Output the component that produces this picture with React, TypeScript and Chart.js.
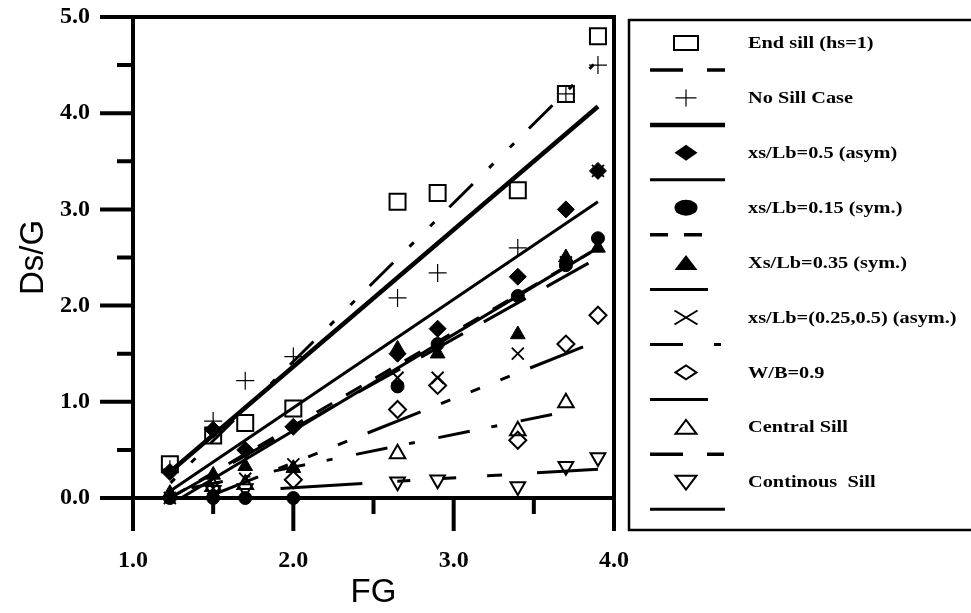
import React, { useEffect, useRef } from "react";
import { Chart, registerables } from "chart.js";

Chart.register(...registerables);

// ---- data ----
const FG_VALUES = [1.23, 1.5, 1.7, 2.0, 2.65, 2.9, 3.4, 3.7, 3.9];
const END_SILL = [0.35, 0.65, 0.78, 0.93, 3.08, 3.17, 3.2, 4.2, 4.8];
const NO_SILL = [0.3, 0.8, 1.22, 1.47, 2.08, 2.34, 2.6, 4.2, 4.5];
const ASYM_05 = [0.27, 0.71, 0.5, 0.74, 1.5, 1.76, 2.3, 3.0, 3.4];
const SYM_015 = [0.0, 0.0, 0.0, 0.0, 1.16, 1.6, 2.1, 2.42, 2.7];
const SYM_035 = [0.05, 0.24, 0.33, 0.31, 1.55, 1.5, 1.7, 2.5, 2.6];
const ASYM_25_05 = [0.0, 0.1, 0.2, 0.35, 1.25, 1.25, 1.5, 2.45, 3.4];
const WB_09 = [null, null, null, 0.19, 0.92, 1.17, 0.6, 1.6, 1.9];
const CENTRAL = [null, 0.12, 0.14, null, 0.46, null, 0.7, 0.99, null];
const CONTINUOUS = [null, 0.08, 0.1, null, 0.17, 0.19, 0.12, 0.33, 0.42];

// fitted trend lines: [x0, x1] and [y0, y1]
const FIT_END_X = [1.23, 3.9];
const FIT_END_Y = [0.15, 4.55];
const FIT_NOSILL_X = [1.23, 3.9];
const FIT_NOSILL_Y = [0.27, 4.07];
const FIT_ASYM05_X = [1.23, 3.9];
const FIT_ASYM05_Y = [0.07, 3.08];
const FIT_SYM015_X = [1.23, 3.85];
const FIT_SYM015_Y = [0.0, 2.55];
const FIT_SYM035_X = [1.3, 3.9];
const FIT_SYM035_Y = [0.0, 2.6];
const FIT_ASYM2505_X = [1.45, 3.85];
const FIT_ASYM2505_Y = [0.0, 1.6];
const FIT_WB_X = [1.23, 3.85];
const FIT_WB_Y = [0.0, 2.45];
const FIT_CENTRAL_X = [1.23, 3.62];
const FIT_CENTRAL_Y = [0.06, 0.87];
const FIT_CONT_X = [1.92, 3.9];
const FIT_CONT_Y = [0.1, 0.3];

const X_TICKS = [1, 2, 3, 4];
const Y_TICKS = [0, 1, 2, 3, 4, 5];

const LEGEND_LABELS = [
  "End sill (hs=1)",
  "No Sill Case",
  "xs/Lb=0.5 (asym)",
  "xs/Lb=0.15 (sym.)",
  "Xs/Lb=0.35 (sym.)",
  "xs/Lb=(0.25,0.5) (asym.)",
  "W/B=0.9",
  "Central Sill",
  "Continous  Sill",
];

const pts = (ys: (number | null)[]) =>
  FG_VALUES.map((x, i) => ({ x, y: ys[i] })).filter((p) => p.y !== null);
const line = (xs: number[], ys: number[]) => xs.map((x, i) => ({ x, y: ys[i] }));

const BLACK = "#000";
const NONE = "rgba(0,0,0,0)";

function markerSet(data: any, style: string, radius: number, filled: boolean, bw: number, rotation = 0) {
  return {
    type: "scatter",
    data,
    showLine: false,
    pointStyle: style,
    pointRadius: radius,
    pointRotation: rotation,
    pointBorderWidth: bw,
    pointBorderColor: BLACK,
    pointBackgroundColor: filled ? BLACK : NONE,
    borderColor: BLACK,
    backgroundColor: filled ? BLACK : NONE,
    clip: false,
  };
}

function lineSet(data: any, width: number, dash: number[], dashOffset = 0) {
  return {
    type: "scatter",
    data,
    showLine: true,
    pointRadius: 0,
    borderColor: BLACK,
    borderWidth: width,
    borderDash: dash,
    borderDashOffset: dashOffset,
    borderCapStyle: "butt",
    fill: false,
  };
}

// legend symbol drawer (stretched like the original)
function drawLegendSymbol(ctx: CanvasRenderingContext2D, i: number, cx: number, cy: number) {
  const w = 11.5;
  const h = 8;
  ctx.save();
  ctx.strokeStyle = BLACK;
  ctx.fillStyle = BLACK;
  ctx.lineWidth = 2;
  ctx.beginPath();
  switch (i) {
    case 0:
      ctx.rect(cx - 12, cy - 7, 24, 14);
      ctx.stroke();
      break;
    case 1:
      ctx.lineWidth = 1.2;
      ctx.moveTo(cx - 10.5, cy);
      ctx.lineTo(cx + 10.5, cy);
      ctx.moveTo(cx, cy - 8.5);
      ctx.lineTo(cx, cy + 8.5);
      ctx.stroke();
      break;
    case 2:
      ctx.moveTo(cx - w, cy);
      ctx.lineTo(cx, cy - h);
      ctx.lineTo(cx + w, cy);
      ctx.lineTo(cx, cy + h);
      ctx.closePath();
      ctx.fill();
      break;
    case 3:
      ctx.ellipse(cx, cy, w, h, 0, 0, Math.PI * 2);
      ctx.fill();
      break;
    case 4:
      ctx.moveTo(cx - w, cy + 7.5);
      ctx.lineTo(cx, cy - 7.5);
      ctx.lineTo(cx + w, cy + 7.5);
      ctx.closePath();
      ctx.fill();
      break;
    case 5:
      ctx.moveTo(cx - w, cy - 7);
      ctx.lineTo(cx + w, cy + 7);
      ctx.moveTo(cx + w, cy - 7);
      ctx.lineTo(cx - w, cy + 7);
      ctx.stroke();
      break;
    case 6:
      ctx.moveTo(cx - 10.5, cy);
      ctx.lineTo(cx, cy - 7);
      ctx.lineTo(cx + 10.5, cy);
      ctx.lineTo(cx, cy + 7);
      ctx.closePath();
      ctx.stroke();
      break;
    case 7:
      ctx.moveTo(cx - 10.5, cy + 6.5);
      ctx.lineTo(cx, cy - 7.5);
      ctx.lineTo(cx + 10.5, cy + 6.5);
      ctx.closePath();
      ctx.stroke();
      break;
    case 8:
      ctx.moveTo(cx - 10.5, cy - 6.5);
      ctx.lineTo(cx, cy + 7.5);
      ctx.lineTo(cx + 10.5, cy - 6.5);
      ctx.closePath();
      ctx.stroke();
      break;
  }
  ctx.restore();
}

// legend line samples: segments [x0, x1] and widths
const LEGEND_LINE_SEGS: number[][][] = [
  [[650, 683], [707, 725]],
  [[650, 725]],
  [[650, 725]],
  [[650, 668], [684, 702]],
  [[650, 708]],
  [[650, 683], [714, 721]],
  [[650, 708]],
  [[650, 683], [707, 724]],
  [[650, 725]],
];
const LEGEND_LINE_W = [3.5, 4.5, 3, 3.5, 3, 3, 3, 3.5, 3];

const framePlugin = {
  id: "frame",
  beforeDatasetsDraw(chart: any) {
    const ctx: CanvasRenderingContext2D = chart.ctx;
    const xs = chart.scales.x;
    const ys = chart.scales.y;
    const L = xs.getPixelForValue(1);
    const R = xs.getPixelForValue(4);
    const T = ys.getPixelForValue(5);
    const B = ys.getPixelForValue(0);
    const major = 33;
    const minor = 16;
    ctx.save();
    ctx.strokeStyle = BLACK;
    ctx.lineWidth = 4;
    ctx.lineCap = "butt";
    ctx.beginPath();
    // frame
    ctx.moveTo(L, T);
    ctx.lineTo(R + 2, T);
    ctx.moveTo(R, T);
    ctx.lineTo(R, B);
    ctx.moveTo(L, T - 2);
    ctx.lineTo(L, B);
    ctx.moveTo(L, B);
    ctx.lineTo(R, B);
    // x ticks
    for (let v = 1; v <= 4.001; v += 0.5) {
      const px = xs.getPixelForValue(v);
      const len = Math.abs(v - Math.round(v)) < 1e-6 ? major : minor;
      ctx.moveTo(px, B);
      ctx.lineTo(px, B + len);
    }
    // y ticks
    for (let v = 0; v <= 5.001; v += 0.5) {
      const py = ys.getPixelForValue(v);
      const len = Math.abs(v - Math.round(v)) < 1e-6 ? major : minor;
      ctx.moveTo(L, py);
      ctx.lineTo(L - len, py);
    }
    ctx.stroke();
    ctx.restore();
  },
  afterDraw(chart: any) {
    const ctx: CanvasRenderingContext2D = chart.ctx;
    ctx.save();
    // legend box
    ctx.strokeStyle = BLACK;
    ctx.lineWidth = 2.5;
    ctx.strokeRect(629, 20, 400, 510);
    const rowY0 = 43;
    const step = 54.9;
    ctx.font = "bold 16px 'Liberation Serif', 'Times New Roman', serif";
    ctx.textBaseline = "middle";
    ctx.textAlign = "left";
    for (let i = 0; i < LEGEND_LABELS.length; i++) {
      const y = rowY0 + i * step;
      drawLegendSymbol(ctx, i, 686, y);
      ctx.save();
      ctx.translate(748, y + 1);
      ctx.scale(1.27, 1);
      ctx.fillStyle = BLACK;
      ctx.fillText(LEGEND_LABELS[i], 0, 0);
      ctx.restore();
      const ly = y + 27;
      ctx.lineWidth = LEGEND_LINE_W[i];
      ctx.beginPath();
      for (const seg of LEGEND_LINE_SEGS[i]) {
        ctx.moveTo(seg[0], ly);
        ctx.lineTo(seg[1], ly);
      }
      ctx.stroke();
    }
    ctx.restore();
  },
};

export default function App() {
  const ref = useRef<HTMLCanvasElement | null>(null);
  useEffect(() => {
    document.body.style.margin = "0";
    const canvas = ref.current!;
    const datasets: any[] = [
      markerSet(pts(END_SILL), "rect", 11.3, false, 2),
      markerSet(pts(NO_SILL), "cross", 9, false, 1.2),
      markerSet(pts(ASYM_05), "rectRot", 8.5, true, 1),
      markerSet(pts(SYM_015), "circle", 6.5, true, 1),
      markerSet(pts(SYM_035), "triangle", 8.5, true, 1),
      markerSet(pts(ASYM_25_05), "crossRot", 8.5, false, 1.8),
      markerSet(pts(WB_09), "rectRot", 8.5, false, 2),
      markerSet(pts(CENTRAL), "triangle", 9, false, 2),
      markerSet(pts(CONTINUOUS), "triangle", 8.5, false, 2, 180),
      lineSet(line(FIT_END_X, FIT_END_Y), 3, [33, 23, 6, 23, 6, 21], 55),
      lineSet(line(FIT_NOSILL_X, FIT_NOSILL_Y), 4.5, []),
      lineSet(line(FIT_ASYM05_X, FIT_ASYM05_Y), 3, []),
      lineSet(line(FIT_SYM015_X, FIT_SYM015_Y), 3, [18, 16]),
      lineSet(line(FIT_SYM035_X, FIT_SYM035_Y), 3, []),
      lineSet(line(FIT_ASYM2505_X, FIT_ASYM2505_Y), 3, [57, 22, 10, 22, 10, 22, 10, 22]),
      lineSet(line(FIT_WB_X, FIT_WB_Y), 3, [48, 24]),
      lineSet(line(FIT_CENTRAL_X, FIT_CENTRAL_Y), 3, [32, 22, 6, 24], 62),
      lineSet(line(FIT_CONT_X, FIT_CONT_Y), 3, [82, 35, 13, 32, 14, 31, 15, 35]),
    ];
    const chart = new Chart(canvas, {
      type: "scatter",
      data: { datasets },
      options: {
        responsive: false,
        animation: false,
        devicePixelRatio: 1,
        layout: { autoPadding: false, padding: { left: 0, right: 357, top: 17, bottom: 0 } },
        plugins: { legend: { display: false }, tooltip: { enabled: false } },
        scales: {
          x: {
            type: "linear",
            min: 1,
            max: 4,
            afterFit: (s: any) => {
              s.height = 115;
              s.paddingLeft = 0;
              s.paddingRight = 0;
              s.paddingTop = 0;
              s.paddingBottom = 0;
            },
            afterBuildTicks: (s: any) => {
              s.ticks = X_TICKS.map((v) => ({ value: v }));
            },
            grid: { display: false, drawTicks: false },
            border: { display: false },
            ticks: {
              padding: 48,
              color: BLACK,
              font: { family: "'Liberation Serif', 'Times New Roman', serif", size: 24, weight: "bold" },
              callback: (v: any) => Number(v).toFixed(1),
            },
            title: {
              display: true,
              text: "FG",
              color: BLACK,
              font: { family: "'Liberation Sans', Arial, sans-serif", size: 33 },
              padding: { top: 0, bottom: 0 },
            },
          },
          y: {
            type: "linear",
            min: 0,
            max: 5,
            afterFit: (s: any) => {
              s.width = 133;
              s.paddingLeft = 0;
              s.paddingRight = 0;
              s.paddingTop = 0;
              s.paddingBottom = 0;
            },
            afterBuildTicks: (s: any) => {
              s.ticks = Y_TICKS.map((v) => ({ value: v }));
            },
            grid: { display: false, drawTicks: false },
            border: { display: false },
            ticks: {
              padding: 43,
              color: BLACK,
              font: { family: "'Liberation Serif', 'Times New Roman', serif", size: 24, weight: "bold" },
              callback: (v: any) => Number(v).toFixed(1),
            },
            title: {
              display: true,
              text: "Ds/G",
              color: BLACK,
              font: { family: "'Liberation Sans', Arial, sans-serif", size: 33 },
              padding: { top: 14, bottom: 0 },
            },
          },
        },
      },
      plugins: [framePlugin],
    } as any);
    return () => chart.destroy();
  }, []);
  return (
    <div style={{ position: "absolute", left: 0, top: 0, width: 971, height: 613, background: "#fff" }}>
      <canvas ref={ref} width={971} height={613} style={{ display: "block" }} />
    </div>
  );
}
